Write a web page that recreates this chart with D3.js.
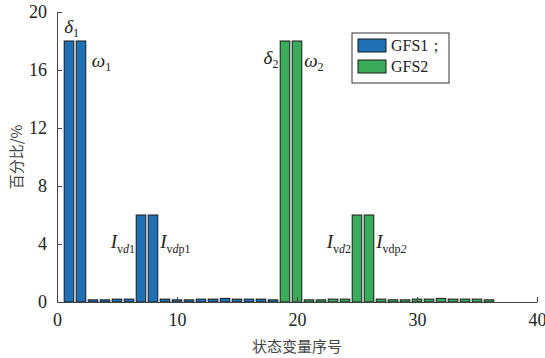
<!DOCTYPE html>
<html lang="zh">
<head>
<meta charset="UTF-8">
<title>状态变量序号</title>
<script src="https://d3js.org/d3.v7.min.js"></script>
<style>
  body { margin: 0; background: #fff; }
  text { font-family: "Liberation Serif", "DejaVu Serif", serif; fill: #222; }
  .cjk { font-family: "Noto Sans CJK SC", sans-serif; fill: #444; }
</style>
</head>
<body>
<script>
// data
var gfs1Index = d3.range(1, 19);
var gfs1Values = [18, 18, 0.15, 0.15, 0.2, 0.2, 6, 6, 0.2, 0.15, 0.15, 0.2, 0.2, 0.25, 0.2, 0.2, 0.2, 0.15];
var gfs2Index = d3.range(19, 37);
var gfs2Values = [18, 18, 0.15, 0.15, 0.2, 0.2, 6, 6, 0.2, 0.15, 0.15, 0.2, 0.2, 0.25, 0.2, 0.2, 0.2, 0.15];
var xTicks = [0, 10, 20, 30, 40];
var yTicks = [0, 4, 8, 12, 16, 20];
var seriesNames = ['GFS1；', 'GFS2'];
var colors = ['#1f70b5', '#3aab5b'];

var width = 545, height = 358;
var margin = { left: 57, right: 8, top: 12, bottom: 56 };

var svg = d3.select('body').append('svg')
    .attr('width', width)
    .attr('height', height);

var x = d3.scaleLinear().domain([0, 40]).range([margin.left, width - margin.right]);
var y = d3.scaleLinear().domain([0, 20]).range([height - margin.bottom, margin.top]);
var barW = x(0.8) - x(0);

function drawBars(idx, vals, color) {
    svg.append('g').selectAll('rect')
        .data(vals)
        .enter()
        .append('rect')
        .attr('x', function(d, i) { return x(idx[i]) - barW / 2; })
        .attr('y', function(d) { return y(d); })
        .attr('width', barW)
        .attr('height', function(d) { return y(0) - y(d); })
        .attr('fill', color)
        .attr('stroke', '#1a1a1a')
        .attr('stroke-width', 1);
}
drawBars(gfs1Index, gfs1Values, colors[0]);
drawBars(gfs2Index, gfs2Values, colors[1]);

// axes
var xAxis = svg.append('g')
    .attr('transform', 'translate(0,' + y(0) + ')')
    .call(d3.axisBottom(x).tickValues(xTicks).tickSizeInner(-5).tickSizeOuter(0).tickPadding(9));
var yAxis = svg.append('g')
    .attr('transform', 'translate(' + x(0) + ',0)')
    .call(d3.axisLeft(y).tickValues(yTicks).tickSizeInner(-5).tickSizeOuter(0).tickPadding(10));
[xAxis, yAxis].forEach(function(a) {
    a.select('.domain').attr('stroke', '#444');
    a.selectAll('.tick line').attr('stroke', '#444');
    a.selectAll('.tick text')
        .style('font-family', '"Liberation Serif", serif')
        .style('font-size', '18px')
        .attr('fill', '#333');
});
xAxis.selectAll('.tick text').attr('dy', '0.85em');

// axis titles
svg.append('text').attr('class', 'cjk')
    .attr('x', (x(0) + x(40)) / 2).attr('y', 352)
    .attr('text-anchor', 'middle')
    .style('font-size', '15px')
    .text('状态变量序号');
svg.append('text').attr('class', 'cjk')
    .attr('transform', 'translate(22,' + y(10) + ') rotate(-90)')
    .attr('text-anchor', 'middle')
    .style('font-size', '15px')
    .text('百分比/%');

// annotations
function label(px, py, main, sub, anchor) {
    var t = svg.append('text')
        .attr('x', px).attr('y', py)
        .attr('text-anchor', anchor || 'start')
        .style('font-size', '19px');
    t.append('tspan').style('font-style', 'italic').text(main);
    sub.forEach(function(s) {
        t.append('tspan').attr('dy', s.dy || 0)
            .style('font-size', '12px')
            .style('font-style', s.italic ? 'italic' : 'normal')
            .text(s.t);
    });
}
label(x(0.6), 33, 'δ', [{ t: '1', dy: 4 }]);
label(x(2.9), 67, 'ω', [{ t: '1', dy: 4 }]);
label(x(18.45), 64, 'δ', [{ t: '2', dy: 4 }], 'end');
label(x(20.6), 67, 'ω', [{ t: '2', dy: 4 }]);
label(x(6.5), 248, 'I', [{ t: 'v', dy: 5 }, { t: 'd', italic: true }, { t: '1' }], 'end');
label(x(8.6), 248, 'I', [{ t: 'v', dy: 5 }, { t: 'd', italic: true }, { t: 'p1' }]);
label(x(24.5), 248, 'I', [{ t: 'v', dy: 5 }, { t: 'd', italic: true }, { t: '2' }], 'end');
label(x(26.6), 248, 'I', [{ t: 'vdp', dy: 5 }, { t: '2', italic: true }]);

// legend
var lg = svg.append('g').attr('transform', 'translate(352,33)');
lg.append('rect').attr('width', 97).attr('height', 50)
    .attr('fill', '#fff').attr('stroke', '#333').attr('stroke-width', 1);
seriesNames.forEach(function(n, i) {
    lg.append('rect').attr('x', 6).attr('y', 6 + i * 21).attr('width', 28).attr('height', 13)
        .attr('fill', colors[i]).attr('stroke', '#1a1a1a');
    lg.append('text').attr('x', 39).attr('y', 18 + i * 21)
        .style('font-size', '16px').text(n);
});
</script>
</body>
</html>
